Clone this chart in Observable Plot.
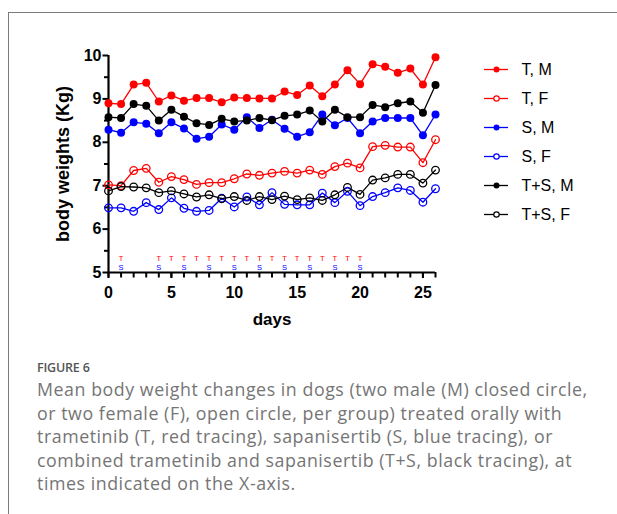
<!DOCTYPE html>
<html>
<head>
<meta charset="utf-8">
<script src="https://cdn.jsdelivr.net/npm/d3@7"></script>
<script src="https://cdn.jsdelivr.net/npm/@observablehq/plot@0.6"></script>
<style>
  html, body { margin: 0; padding: 0; background: #fff; }
  body { width: 617px; height: 514px; overflow: hidden; position: relative; }
  #frame { position: absolute; left: 8px; top: 12px; width: 700px; height: 600px; border: 1px solid #7a7a7a; }
  #chart, #legend { position: absolute; left: 0; top: 0; }
  #legend { pointer-events: none; }
  #caption { position: absolute; left: 37px; top: 359px; font-family: "Open Sans", sans-serif; }
  #caption .fig { font-size: 12.5px; font-weight: 600; color: #555; line-height: 18px; letter-spacing: -0.2px; }
  #caption .txt { font-size: 17.8px; color: #757575; line-height: 23.5px; margin-top: 1px; letter-spacing: 0.55px; white-space: nowrap; }
</style>
</head>
<body>
<div id="frame"></div>
<div id="chart"></div>
<div id="legend"></div>
<div id="caption">
  <div class="fig">FIGURE 6</div>
  <div class="txt">Mean body weight changes in dogs (two male (M) closed circle,<br>or two female (F), open circle, per group) treated orally with<br>trametinib (T, red tracing), sapanisertib (S, blue tracing), or<br>combined trametinib and sapanisertib (T+S, black tracing), at<br>times indicated on the X-axis.</div>
</div>
<script>
// ---- data ----
const days = [0,1,2,3,4,5,6,7,8,9,10,11,12,13,14,15,16,17,18,19,20,21,22,23,24,25,26];
const seriesNames = ["T, M", "T, F", "S, M", "S, F", "T+S, M", "T+S, F"];
const T_M  = [8.90,8.88,9.33,9.37,8.94,9.08,8.96,9.02,9.02,8.92,9.03,9.02,9.01,9.01,9.17,9.09,9.31,9.06,9.33,9.66,9.34,9.80,9.74,9.60,9.70,9.33,9.96];
const T_F  = [7.02,7.00,7.35,7.40,7.08,7.21,7.14,7.03,7.07,7.07,7.16,7.27,7.24,7.29,7.33,7.29,7.36,7.26,7.44,7.52,7.41,7.90,7.93,7.89,7.89,7.53,8.06];
const S_M  = [8.29,8.22,8.46,8.43,8.21,8.46,8.32,8.08,8.13,8.41,8.29,8.58,8.33,8.52,8.31,8.13,8.23,8.64,8.39,8.56,8.21,8.48,8.56,8.56,8.56,8.16,8.64];
const S_F  = [6.49,6.49,6.41,6.61,6.45,6.72,6.48,6.41,6.43,6.71,6.51,6.74,6.56,6.84,6.57,6.56,6.56,6.83,6.61,6.87,6.54,6.75,6.84,6.95,6.89,6.62,6.93];
const TS_M = [8.58,8.56,8.88,8.84,8.50,8.75,8.59,8.44,8.40,8.54,8.48,8.50,8.56,8.51,8.61,8.64,8.73,8.48,8.75,8.58,8.58,8.86,8.81,8.90,8.94,8.68,9.32];
const TS_F = [6.88,6.98,6.97,6.95,6.84,6.88,6.81,6.74,6.79,6.70,6.75,6.66,6.75,6.68,6.76,6.68,6.72,6.66,6.79,6.96,6.80,7.13,7.18,7.26,7.26,7.06,7.36];
const tDays = [1,4,5,6,7,8,9,10,11,12,13,14,15,16,17,18,19,20];
const sDays = [1,4,6,8,10,12,14,16,18,20];
const yMajorTicks = [5,6,7,8,9,10];
const yMinorTicks = [5.5,6.5,7.5,8.5,9.5];
const xMajorTicks = [0,5,10,15,20,25];

// ---- styling (not data) ----
const colorOf = {"T, M":"#ff0000","T, F":"#ff0000","S, M":"#0000ff","S, F":"#0000ff","T+S, M":"#000000","T+S, F":"#000000"};
const femaleOf = {"T, M":false,"T, F":true,"S, M":false,"S, F":true,"T+S, M":false,"T+S, F":true};

const valuesBySeries = {"T, M":T_M,"T, F":T_F,"S, M":S_M,"S, F":S_F,"T+S, M":TS_M,"T+S, F":TS_F};
const rows = [];
for (const name of seriesNames) {
  valuesBySeries[name].forEach((v, i) => rows.push({series: name, day: days[i], value: v}));
}
const males = rows.filter(d => !femaleOf[d.series]);
const females = rows.filter(d => femaleOf[d.series]);

const font = "'Liberation Sans', Arial, Helvetica, sans-serif";

const chart = Plot.plot({
  width: 617, height: 340,
  marginLeft: 108, marginRight: 182, marginTop: 55, marginBottom: 68,
  x: {domain: [0, 26]},
  y: {domain: [5, 10]},
  style: {fontFamily: font, background: "transparent", color: "#000", overflow: "visible"},
  marks: [
    Plot.axisY({ticks: yMinorTicks, tickSize: 4, strokeWidth: 2, tickFormat: () => "", label: null}),
    Plot.axisY({ticks: yMajorTicks, tickSize: 5.5, tickPadding: 1.5, strokeWidth: 2, fontSize: 16, fontWeight: "bold", tickFormat: d => String(d), label: null}),
    Plot.axisX({ticks: days, tickSize: 5.5, strokeWidth: 2, tickFormat: () => "", label: null}),
    Plot.axisX({ticks: xMajorTicks, tickSize: 6, tickPadding: 8, strokeWidth: 2, fontSize: 16, fontWeight: "bold", tickFormat: d => String(d), label: null}),
    Plot.ruleX([0], {y1: 5, y2: 10, strokeWidth: 2.2}),
    Plot.ruleY([5], {x1: 0, x2: 26, strokeWidth: 2.2}),
    Plot.text(["body weights (Kg)"], {frameAnchor: "left", textAnchor: "middle", rotate: -90, dx: -45, fontSize: 18, fontWeight: "bold"}),
    Plot.text(["days"], {frameAnchor: "bottom", dy: 52, fontSize: 17, fontWeight: "bold"}),
    Plot.text(tDays, {x: d => d, y: 5, text: () => "T", dy: -14, fill: "#ff0000", fontSize: 7.5}),
    Plot.text(sDays, {x: d => d, y: 5, text: () => "S", dy: -5, fill: "#0000ff", fontSize: 7.5}),
    Plot.line(rows, {x: "day", y: "value", z: "series", stroke: d => colorOf[d.series], strokeWidth: 1.3}),
    Plot.dot(females, {x: "day", y: "value", r: 3.8, fill: "none", stroke: d => colorOf[d.series], strokeWidth: 1.3}),
    Plot.dot(males, {x: "day", y: "value", r: 4, fill: d => colorOf[d.series], stroke: "none"})
  ]
});
document.getElementById("chart").appendChild(chart);

const legend = Plot.plot({
  width: 617, height: 240,
  margin: 0,
  x: {domain: [0, 1], range: [484, 508], axis: null},
  y: {type: "point", domain: seriesNames, range: [68.5, 214], padding: 0, axis: null},
  style: {fontFamily: font, background: "transparent", overflow: "visible"},
  marks: [
    Plot.ruleY(seriesNames, {y: d => d, x1: 0, x2: 1, stroke: d => colorOf[d], strokeWidth: 1.3}),
    Plot.dot(seriesNames.filter(d => femaleOf[d]), {x: 0.5, y: d => d, r: 2.7, fill: "white", stroke: d => colorOf[d], strokeWidth: 1.2}),
    Plot.dot(seriesNames.filter(d => !femaleOf[d]), {x: 0.5, y: d => d, r: 3, fill: d => colorOf[d], stroke: "none"}),
    Plot.text(seriesNames, {x: 1, y: d => d, dx: 13, textAnchor: "start", fontSize: 16, fill: "#000"})
  ]
});
document.getElementById("legend").appendChild(legend);
</script>
</body>
</html>
